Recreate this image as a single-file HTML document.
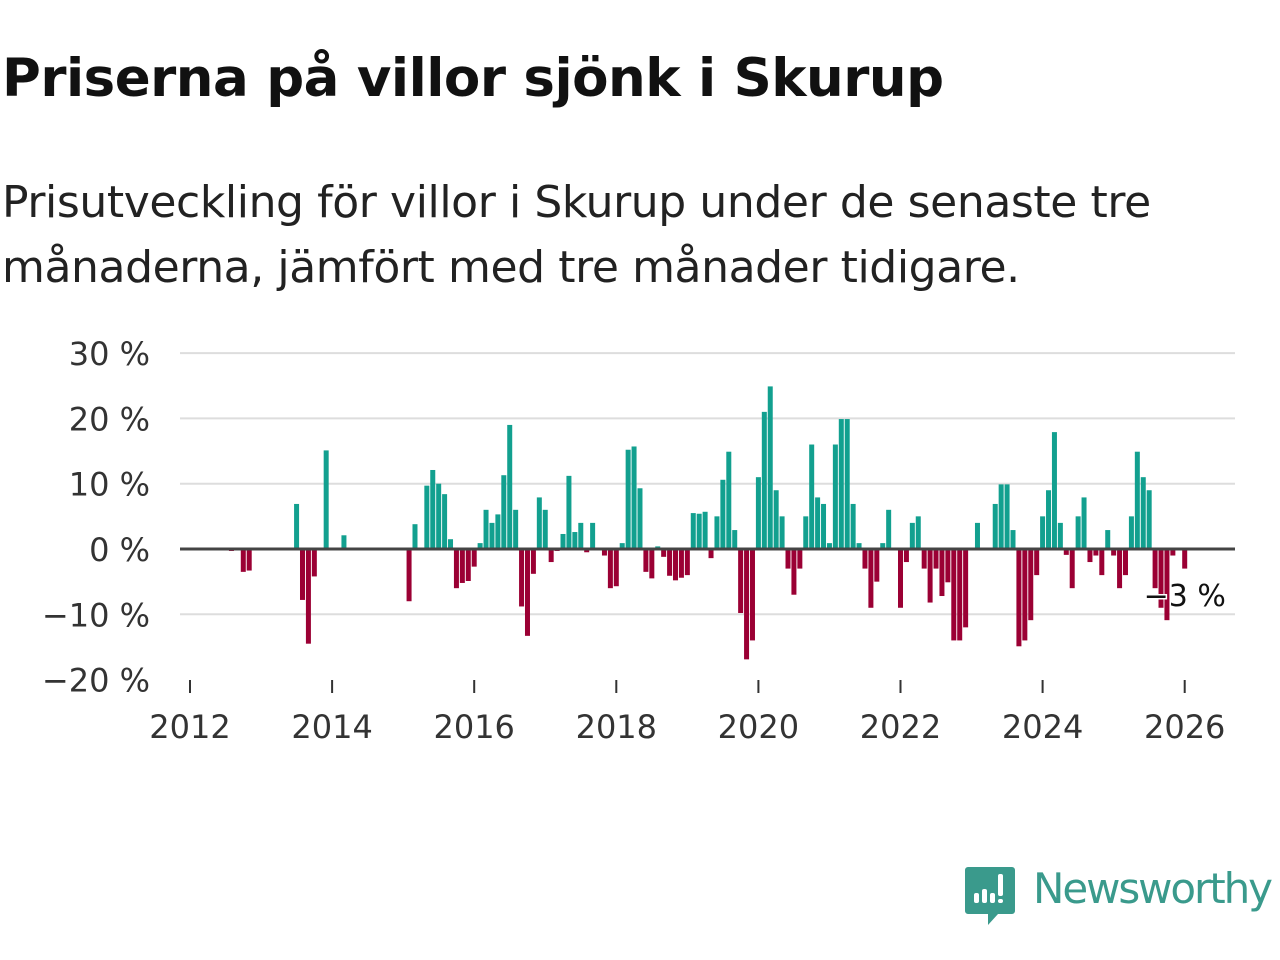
<!DOCTYPE html>
<html><head><meta charset="utf-8">
<style>
body{margin:0;background:#fff;width:1280px;height:960px;overflow:hidden;font-family:"DejaVu Sans","Liberation Sans",sans-serif;}
#title{position:absolute;left:2px;top:48px;font-size:53px;font-weight:bold;color:#111;margin:0;letter-spacing:-0.5px;white-space:nowrap;}
#sub{position:absolute;left:2px;top:170px;font-size:44px;color:#222;line-height:65px;margin:0;width:1240px;letter-spacing:-0.4px;}
svg{position:absolute;left:0;top:0;}
</style></head><body>
<h1 id="title">Priserna på villor sjönk i Skurup</h1>
<p id="sub">Prisutveckling för villor i Skurup under de senaste tre<br>månaderna, jämfört med tre månader tidigare.</p>
<svg id="chart" width="1280" height="960"></svg>
<script>
const startYear = 2012;
const yTicks = [30,20,10,0,-10,-20];
const xTickYears = [2012,2014,2016,2018,2020,2022,2024,2026];
const values = [
0,0,0,0,0,0,0,-0.3,0,-3.5,-3.3,0,0,0,0,0,0,0,6.9,-7.8,-14.5,-4.2,0,15.1,0,0,2.1,0,0,0,
0,0,0,0,0,0,0,-8,3.8,0,9.7,12.1,10,8.4,1.5,-6,-5.2,-4.9,-2.7,0.9,6,4,5.3,11.3,19,6,-8.8,-13.3,-3.8,7.9,
6,-2,-0.3,2.3,11.2,2.6,4,-0.5,4,0,-1,-6,-5.7,0.9,15.2,15.7,9.3,-3.5,-4.5,0.4,-1.2,-4.1,-4.8,-4.4,-4,5.5,5.4,5.7,-1.4,5,
10.6,14.9,2.9,-9.8,-16.9,-14,11,21,24.9,9,5,-3,-7,-3,5,16,7.9,6.9,0.9,16,19.9,19.9,6.9,0.9,-3,-9,-5,0.9,6,0,
-9,-2,4,5,-3,-8.2,-3,-7.2,-5.1,-14,-14,-12,0,4,0,0,6.9,9.9,9.9,2.9,-14.9,-14,-10.9,-4,5,9,17.9,4,-0.9,-6,
5,7.9,-2,-1,-4,2.9,-1,-6,-4,5,14.9,11,9,-6,-9,-10.9,-1,0,-3
];
const lastLabel = "−3 %";
const NS="http://www.w3.org/2000/svg";
const svg=document.getElementById('chart');
const x0=190, pxYear=71.05, left=180, right=1235;
const yZero=549, pxPct=6.53;
const xPos=m=>x0+m*pxYear/12;
const yPos=v=>yZero-v*pxPct;
function mk(t,a){const e=document.createElementNS(NS,t);for(const k in a)e.setAttribute(k,a[k]);svg.appendChild(e);return e;}
yTicks.forEach(v=>{
  if(v!==0&&v!==-20){const g=mk('line',{x1:left,x2:right,y1:yPos(v),y2:yPos(v),stroke:'#dddddd','stroke-width':2});
  
  }
  const t=mk('text',{x:150,y:yPos(v)+12,'text-anchor':'end','font-size':32,fill:'#333','font-family':'DejaVu Sans, Liberation Sans, sans-serif'});
  t.textContent=(v<0?'−'+(-v):v)+' %';
  
  
});
values.forEach((v,i)=>{
  if(v===0)return;
  const x=xPos(i), y=yPos(Math.max(v,0)), h=Math.abs(v)*pxPct;
  const r=mk('rect',{x:x-2.5,y:y,width:5,height:h,fill:v>0?'#12a08f':'#9b0034'});
  
  
});
const z=mk('line',{x1:left,x2:right,y1:yZero,y2:yZero,stroke:'#444','stroke-width':3});


xTickYears.forEach(yr=>{
  const x=xPos((yr-startYear)*12);
  const tk=mk('line',{x1:x,x2:x,y1:680,y2:693,stroke:'#333','stroke-width':2});
  
  
  const t=mk('text',{x:x,y:738,'text-anchor':'middle','font-size':32,fill:'#333','font-family':'DejaVu Sans, Liberation Sans, sans-serif'});
  t.textContent=yr;
  
  
});
const lastI=values.length-1;
const lb=mk('text',{x:xPos(lastI),y:606,'text-anchor':'middle','font-size':30,fill:'#111',stroke:'#fff','stroke-width':3,'paint-order':'stroke','font-family':'DejaVu Sans, Liberation Sans, sans-serif'});
lb.textContent=lastLabel;


</script>
<svg width="1280" height="960" style="pointer-events:none">
  <path d="M968 867 h44 a3 3 0 0 1 3 3 v41 a3 3 0 0 1 -3 3 h-14 l-10 11 v-11 h-20 a3 3 0 0 1 -3 -3 v-41 a3 3 0 0 1 3 -3z" fill="#3a9a8c"/>
  <rect x="974" y="893" width="5" height="10" rx="2" fill="#fff"/>
  <rect x="982" y="889" width="5" height="14" rx="2" fill="#fff"/>
  <rect x="990" y="893" width="5" height="10" rx="2" fill="#fff"/>
  <rect x="998" y="874" width="5" height="22" rx="2" fill="#fff"/>
  <rect x="998" y="899" width="5" height="4" rx="2" fill="#fff"/>
  <text x="1033" y="903" font-size="42" fill="#3a9a8c" font-family="DejaVu Sans, Liberation Sans, sans-serif" textLength="240">Newsworthy</text>
</svg>
</body></html>
